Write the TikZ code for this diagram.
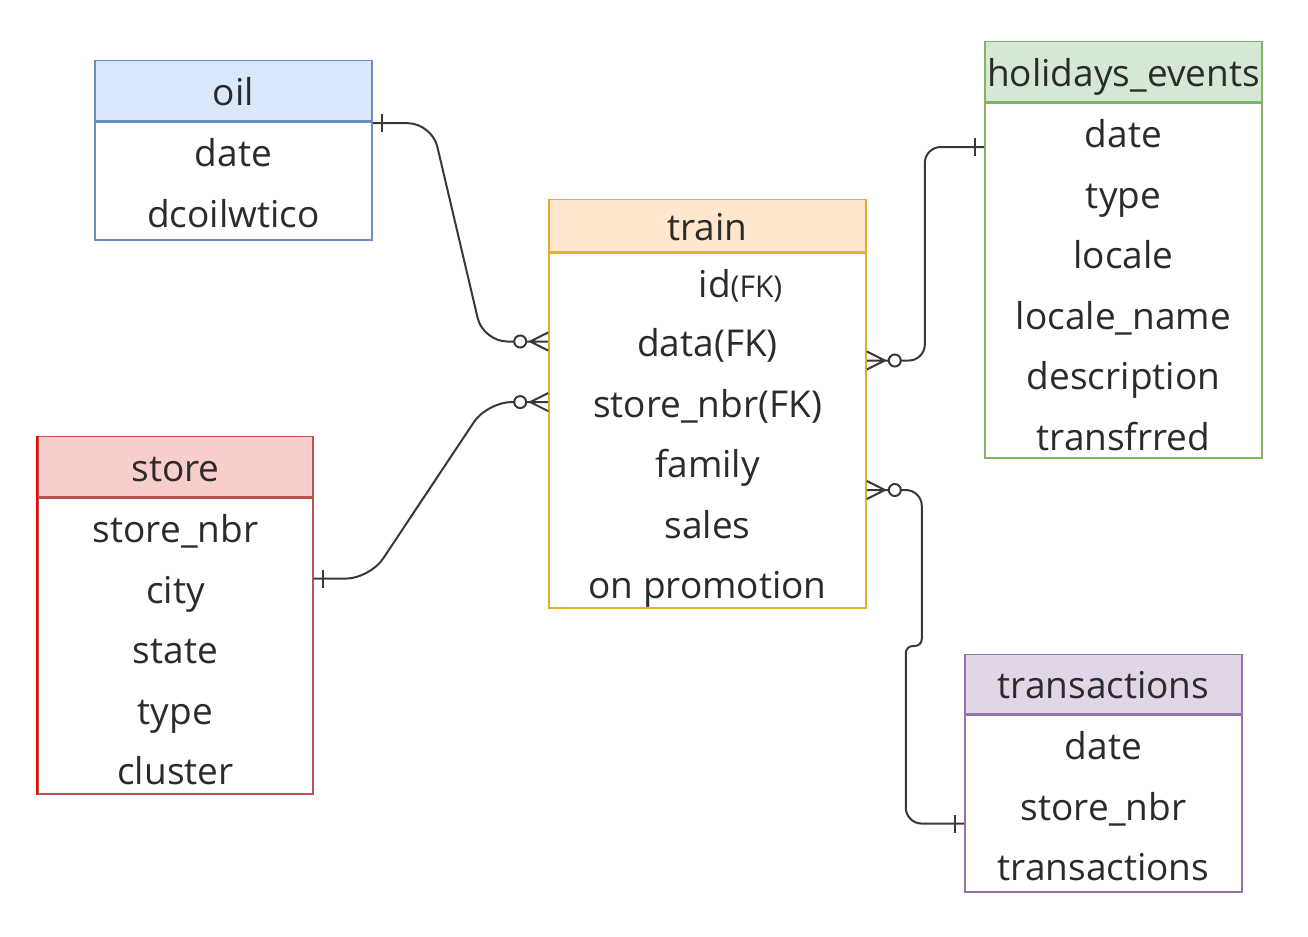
\documentclass[tikz,border=0pt]{standalone}
\usepackage{fontspec}
\setmainfont{Open Sans}
\usetikzlibrary{positioning, calc}

\definecolor{oilfill}{HTML}{DAE8FC}
\definecolor{oilline}{HTML}{6C8EBF}
\definecolor{trainfill}{HTML}{FFE6CC}
\definecolor{trainline}{HTML}{E3AE30}
\definecolor{holfill}{HTML}{D5E8D4}
\definecolor{holline}{HTML}{82B366}
\definecolor{storefill}{HTML}{F8CECC}
\definecolor{storeline}{HTML}{B85450}
\definecolor{transfill}{HTML}{E1D5E7}
\definecolor{transline}{HTML}{9673A6}
\definecolor{textgray}{HTML}{2B2B2B}
\definecolor{linkgray}{HTML}{383838}

% crow's foot ends
\pgfdeclarearrow{
  name = One,
  setup code = {
    \pgfarrowssettipend{0pt}
    \pgfarrowssetlineend{0pt}
    \pgfarrowssetbackend{-5pt}
  },
  drawing code = {
    \pgfpathmoveto{\pgfqpoint{-4.5pt}{4.5pt}}
    \pgfpathlineto{\pgfqpoint{-4.5pt}{-4.5pt}}
    \pgfusepathqstroke
  }
}
\pgfdeclarearrow{
  name = ZeroMany,
  setup code = {
    \pgfarrowssettipend{0pt}
    \pgfarrowssetlineend{-17pt}
    \pgfarrowssetbackend{-17pt}
  },
  drawing code = {
    \pgfpathmoveto{\pgfqpoint{0pt}{4.5pt}}
    \pgfpathlineto{\pgfqpoint{-9pt}{0pt}}
    \pgfpathlineto{\pgfqpoint{0pt}{-4.5pt}}
    \pgfpathmoveto{\pgfqpoint{0pt}{0pt}}
    \pgfpathlineto{\pgfqpoint{-11pt}{0pt}}
    \pgfusepathqstroke
    \pgfpathcircle{\pgfqpoint{-14pt}{0pt}}{3pt}
    \pgfusepathqstroke
  }
}

\begin{document}
\begin{tikzpicture}[x=0.5pt, y=-0.5pt, thick, text=textgray, font=\fontsize{18.5}{22}\selectfont]
        % Define table styles
        \tikzstyle{body} = [rectangle, draw, fill=white, inner sep=0pt]
        \tikzstyle{head} = [rectangle, draw, inner sep=0pt, minimum height=30pt, text height=15pt, text depth=0pt]
        \tikzstyle{row} = [inner sep=0pt, minimum height=29.5pt, text height=15pt, text depth=0pt]
        \tikzstyle{relation} = [draw=linkgray, line width=1pt, rounded corners=12pt]

        \useasboundingbox (0,0) rectangle (1308,937);

        % Place table bodies and headers
        \node [body, draw=oilline, minimum width=138.5pt, minimum height=59pt] (oil) at (233.5,181) {};
        \node [head, draw=oilline, fill=oilfill, minimum width=138.5pt, above=0pt of oil] (oil-head) {oil};

        \node [body, draw=trainline, minimum width=158.5pt, minimum height=177.5pt] (train) at (707.5,430.5) {};
        \node [head, draw=trainline, fill=trainfill, minimum width=158.5pt, minimum height=26pt, above=0pt of train] (train-head) {train};

        \node [body, draw=holline, minimum width=138.5pt, minimum height=177.5pt] (hol) at (1123.5,280.5) {};
        \node [head, draw=holline, fill=holfill, minimum width=138.5pt, above=0pt of hol] (hol-head) {holidays\_events};

        \node [body, draw=storeline, minimum width=137.5pt, minimum height=148pt] (store) at (175.5,646) {};
        \node [head, draw=storeline, fill=storefill, minimum width=137.5pt, above=0pt of store] (store-head) {store};
        \draw [red] (store-head.north west) -- (store.south west);

        \node [body, draw=transline, minimum width=138.5pt, minimum height=88.5pt] (trans) at (1103.5,803.5) {};
        \node [head, draw=transline, fill=transfill, minimum width=138.5pt, minimum height=29.5pt, above=0pt of trans] (trans-head) {transactions};

        % Rows of oil
        \node [row, below=0pt of oil.north] (oil-date) {date};
        \node [row, below=0pt of oil-date] (oil-price) {dcoilwtico};

        % Rows of train
        \node [row, below=0pt of train.north, xshift=16.5pt] (train-id) {id{\fontsize{15}{18}\selectfont(FK)}};
        \node [row, below=29.5pt of train.north] (train-data) {data(FK)};
        \node [row, below=0pt of train-data] (train-store) {store\_nbr(FK)};
        \node [row, below=0pt of train-store] (train-family) {family};
        \node [row, below=0pt of train-family] (train-sales) {sales};
        \node [row, below=0pt of train-sales] (train-promo) {on promotion};

        % Rows of holidays_events
        \node [row, below=0pt of hol.north] (hol-date) {date};
        \node [row, below=0pt of hol-date] (hol-type) {type};
        \node [row, below=0pt of hol-type] (hol-locale) {locale};
        \node [row, below=0pt of hol-locale] (hol-name) {locale\_name};
        \node [row, below=0pt of hol-name] (hol-desc) {description};
        \node [row, below=0pt of hol-desc] (hol-trans) {transfrred};

        % Rows of store
        \node [row, below=0pt of store.north] (store-nbr) {store\_nbr};
        \node [row, below=0pt of store-nbr] (store-city) {city};
        \node [row, below=0pt of store-city] (store-state) {state};
        \node [row, below=0pt of store-state] (store-type) {type};
        \node [row, below=0pt of store-type] (store-cluster) {cluster};

        % Rows of transactions
        \node [row, below=0pt of trans.north] (trans-date) {date};
        \node [row, below=0pt of trans-date] (trans-store) {store\_nbr};
        \node [row, below=0pt of trans-store] (trans-count) {transactions};

        % Ends of relations
        \coordinate (trans-one) at ($(trans.west |- trans-store)+(0,-9.25pt)$);

        % Draw relations
        \draw [relation, {One}-{ZeroMany}] ([yshift=-1pt]oil.north east) -- ++(59,0)
            -- ($(train.west |- train-data)+(-65,0)$) -- (train.west |- train-data);
        \draw [relation, {One}-{ZeroMany}] ($(store.east |- store-city)+(0,4.75pt)$) -- ++(56,0)
            -- ($(train.west |- train-store)+(-61,0)$) -- (train.west |- train-store);
        \draw [relation, rounded corners=8pt, {ZeroMany}-{One}] ([yshift=35pt]train.east) -- ++(58,0)
            |- ($(hol.west |- hol-date)+(0,-7.25pt)$);
        \draw [relation, rounded corners=8pt, {ZeroMany}-{One}] ([yshift=-29.75pt]train.east) -- ++(55,0)
            [rounded corners=3.5pt] -- ++(0,156) -- ++(-16,0) coordinate (jog)
            [rounded corners=8pt] -- (jog |- trans-one) -- (trans-one);

    \end{tikzpicture}
\end{document}
